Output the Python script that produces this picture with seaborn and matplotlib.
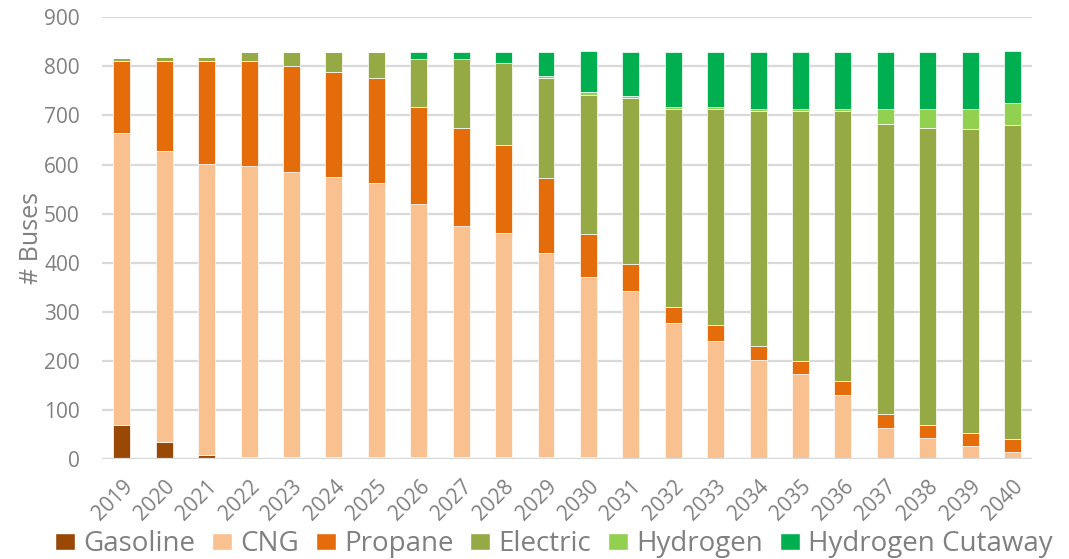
import numpy as np
import pandas as pd
import matplotlib
matplotlib.use("Agg")
import matplotlib.pyplot as plt
import seaborn as sns
from matplotlib.patches import Patch

# Bus fleet composition by fuel type, 2019-2040
years = [str(y) for y in range(2019, 2041)]
gasoline = [70, 34, 8, 3, 3, 3, 3, 3, 3, 3, 3, 3, 0, 0, 0, 0, 0, 0, 0, 0, 0, 0]
cng = [594, 594, 593, 593, 581, 572, 559, 516, 471, 458, 416, 368,
       342, 278, 241, 202, 173, 131, 64, 42, 26, 14]
propane = [146, 183, 209, 214, 216, 213, 214, 199, 201, 179, 154, 87,
           55, 32, 31, 28, 27, 27, 27, 27, 27, 27]
electric = [7, 9, 9, 20, 30, 42, 54, 97, 140, 166, 203, 283,
            339, 404, 441, 480, 510, 552, 592, 606, 619, 640]
hydrogen = [0, 0, 0, 0, 0, 0, 0, 0, 0, 0, 4, 6,
            4, 4, 4, 4, 4, 4, 31, 39, 42, 44]
h_cutaway = [0, 0, 0, 0, 0, 0, 0, 15, 15, 24, 50, 84,
             90, 112, 113, 116, 116, 116, 116, 116, 116, 106]

series = {
    "Gasoline": gasoline,
    "CNG": cng,
    "Propane": propane,
    "Electric": electric,
    "Hydrogen": hydrogen,
    "Hydrogen Cutaway": h_cutaway,
}
colors = {
    "Gasoline": "#994806",
    "CNG": "#f9c18f",
    "Propane": "#e46c0a",
    "Electric": "#95a945",
    "Hydrogen": "#92d050",
    "Hydrogen Cutaway": "#00b050",
}

sns.set_theme(style="white")
plt.rcParams["font.family"] = ["Open Sans", "DejaVu Sans"]
grey = "#808080"

fig = plt.figure(figsize=(10.69, 5.59), dpi=100)
ax = fig.add_axes([0.0954, 0.179, 0.870, 0.790])

# stacked bars, one seaborn call per fuel type
bottom = np.zeros(len(years))
for name, vals in series.items():
    df = pd.DataFrame({"year": years, "n": vals})
    sns.barplot(data=df, x="year", y="n", color=colors[name], width=0.4,
                bottom=bottom, ax=ax, saturation=1, linewidth=0.5,
                edgecolor="white", zorder=3)
    bottom += np.array(vals)

ax.set_ylim(0, 900)
ax.set_xlim(-0.47, 21.46)
ax.set_yticks(range(0, 901, 100))
ax.yaxis.grid(True, color="#d9d9d9", linewidth=1.6, zorder=0)
ax.set_axisbelow(True)
for s in ax.spines.values():
    s.set_visible(False)
ax.axhline(0, color="#d9d9d9", linewidth=1.6, zorder=4)

ax.tick_params(axis="y", labelsize=15, labelcolor=grey, length=0, pad=16)
ax.tick_params(axis="x", labelsize=15, labelcolor=grey, length=0, pad=12)
plt.setp(ax.get_xticklabels(), rotation=45, ha="right", rotation_mode="anchor")
ax.set_xlabel("")
ax.set_ylabel("# Buses", fontsize=18, color=grey, labelpad=0)

handles = [Patch(facecolor=colors[k], label=k) for k in series]
fig.legend(handles=handles, loc="center", bbox_to_anchor=(0.518, 0.026),
           ncol=6, frameon=False, fontsize=20, labelcolor=grey,
           handlelength=0.72, handleheight=0.58, handletextpad=0.3,
           columnspacing=0.6, borderpad=0)

fig.savefig("out.png", dpi=100)
